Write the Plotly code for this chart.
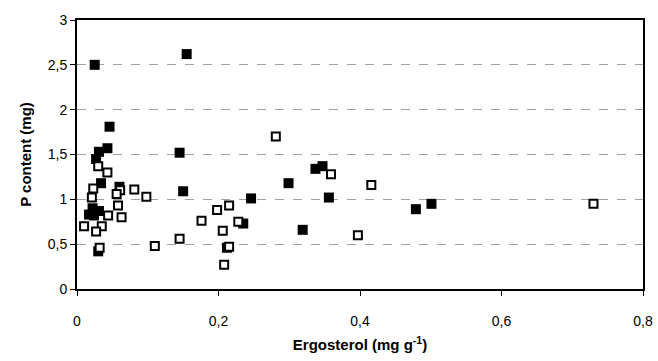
import plotly.graph_objects as go

# Filled squares series
filled_x = [0.025, 0.155, 0.046, 0.043, 0.031, 0.027, 0.145, 0.034, 0.060, 0.150,
            0.022, 0.031, 0.017, 0.024, 0.030, 0.212, 0.235, 0.246, 0.299, 0.319,
            0.337, 0.347, 0.356, 0.479, 0.501]
filled_y = [2.50, 2.62, 1.81, 1.57, 1.53, 1.45, 1.52, 1.18, 1.14, 1.09,
            0.90, 0.87, 0.83, 0.82, 0.42, 0.46, 0.73, 1.01, 1.18, 0.66,
            1.34, 1.37, 1.02, 0.89, 0.95]

# Open squares series
open_x = [0.030, 0.043, 0.023, 0.021, 0.061, 0.056, 0.081, 0.098, 0.058, 0.044,
          0.063, 0.010, 0.035, 0.027, 0.032, 0.110, 0.145, 0.176, 0.198, 0.215,
          0.206, 0.215, 0.208, 0.228, 0.281, 0.359, 0.397, 0.416, 0.730]
open_y = [1.37, 1.30, 1.12, 1.02, 1.10, 1.06, 1.11, 1.03, 0.93, 0.82,
          0.80, 0.70, 0.70, 0.64, 0.46, 0.48, 0.56, 0.76, 0.88, 0.93,
          0.65, 0.47, 0.27, 0.75, 1.70, 1.28, 0.60, 1.16, 0.95]

x_ticks = [0, 0.2, 0.4, 0.6, 0.8]
x_tick_labels = ["0", "0,2", "0,4", "0,6", "0,8"]
y_ticks = [0, 0.5, 1, 1.5, 2, 2.5, 3]
y_tick_labels = ["0", "0,5", "1", "1,5", "2", "2,5", "3"]

FONT = "Arial, Liberation Sans, sans-serif"

fig = go.Figure()
fig.add_trace(go.Scatter(
    x=filled_x, y=filled_y, mode="markers",
    marker=dict(symbol="square", size=10, color="black", line=dict(width=0)),
    showlegend=False))
fig.add_trace(go.Scatter(
    x=open_x, y=open_y, mode="markers",
    marker=dict(symbol="square", size=8, color="white", line=dict(width=2, color="black")),
    showlegend=False))

fig.update_layout(
    template="none",
    width=658, height=361,
    margin=dict(l=77, r=15, t=20, b=72, pad=0),
    paper_bgcolor="white", plot_bgcolor="white",
    font=dict(family=FONT, size=14, color="black"),
    xaxis=dict(
        range=[0, 0.8], tickmode="array", tickvals=x_ticks, ticktext=x_tick_labels,
        showgrid=False, zeroline=False, automargin=False,
        showline=True, linecolor="black", linewidth=2, mirror=True,
        ticks="outside", ticklen=5, tickcolor="black", tickwidth=1,
        ticklabelstandoff=13,
        title=dict(text="<b>Ergosterol (mg g<sup>-1</sup>)</b>", font=dict(size=15), standoff=12),
    ),
    yaxis=dict(
        range=[0, 3], tickmode="array", tickvals=y_ticks, ticktext=y_tick_labels,
        showgrid=True, gridcolor="#a0a0a0", griddash="dash", gridwidth=1,
        zeroline=False, automargin=False,
        showline=True, linecolor="black", linewidth=2, mirror=True,
        ticks="outside", ticklen=5, tickcolor="black", tickwidth=1,
        title=dict(text="<b>P content (mg)</b>", font=dict(size=15), standoff=12),
    ),
)

fig.write_html("out.html", config={"displayModeBar": False},
               post_script="document.body.style.margin='0';")
